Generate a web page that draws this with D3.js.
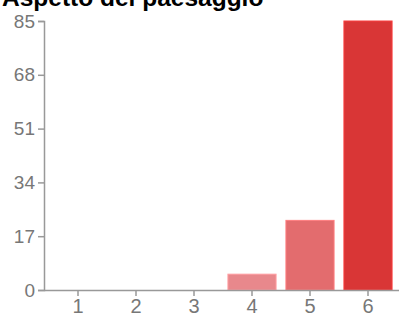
<!DOCTYPE html>
<html>
<head>
<meta charset="utf-8">
<script src="https://cdn.jsdelivr.net/npm/d3@7"></script>
<style>
  body { margin: 0; background: #fff; }
  svg { display: block; }
</style>
</head>
<body>
<div id="chart"></div>
<script>
'use strict';

// chart data
let title = 'Aspetto del paesaggio';
let categories = ['1', '2', '3', '4', '5', '6'];
let counts = [0, 0, 0, 5, 22, 85];
let yTicks = [0, 17, 34, 51, 68, 85];
let barColors = ['#e8888c', '#e8888c', '#e8888c', '#e8888c', '#e36c6e', '#d93636'];

let width = 399,
    height = 318;

let svg = d3.select('#chart')
    .append('svg')
    .attr('width', width)
    .attr('height', height);

let x = d3.scaleBand()
    .domain(categories)
    .range([49, 397])
    .paddingInner(0.17)
    .paddingOuter(0.085);

let y = d3.scaleLinear()
    .domain([0, 85])
    .range([290, 21]);

// bars
svg.append('g')
    .selectAll('rect')
    .data(counts)
    .enter().append('rect')
    .attr('x', function(d, i) {
        return x(categories[i]);
    })
    .attr('y', function(d) {
        return y(d);
    })
    .attr('width', x.bandwidth())
    .attr('height', function(d) {
        return y(0) - y(d);
    })
    .attr('fill', function(d, i) {
        return barColors[i];
    })
    .attr('stroke', function(d, i) {
        return d3.color(barColors[i]).brighter(0.4);
    })
    .attr('stroke-width', 1)
    .style('display', function(d) {
        return d > 0 ? null : 'none';
    });

// y axis
let yAxis = svg.append('g')
    .attr('transform', 'translate(44,0)')
    .call(d3.axisLeft(y).tickValues(yTicks).tickSize(6).tickPadding(3));

// x axis
let xAxis = svg.append('g')
    .attr('transform', 'translate(0,290)')
    .call(d3.axisBottom(x).tickSize(6).tickPadding(3).tickSizeOuter(0));

xAxis.select('.domain').attr('d', 'M44,0.5H399');

[xAxis, yAxis].forEach(function(ax) {
    ax.selectAll('.domain, line').attr('stroke', '#999').attr('stroke-width', 1.5);
    ax.selectAll('text')
        .attr('fill', '#777')
        .style('font-family', 'Liberation Sans, Arial, sans-serif')
        .style('font-size', '19px');
});
xAxis.selectAll('text').style('font-size', '20px');

// title, partly cut off at the top
svg.append('text')
    .attr('x', 2)
    .attr('y', 6)
    .attr('fill', '#000')
    .style('font-family', 'Liberation Sans, Arial, sans-serif')
    .style('font-weight', 'bold')
    .style('font-size', '24.5px')
    .text(title);
</script>
</body>
</html>
